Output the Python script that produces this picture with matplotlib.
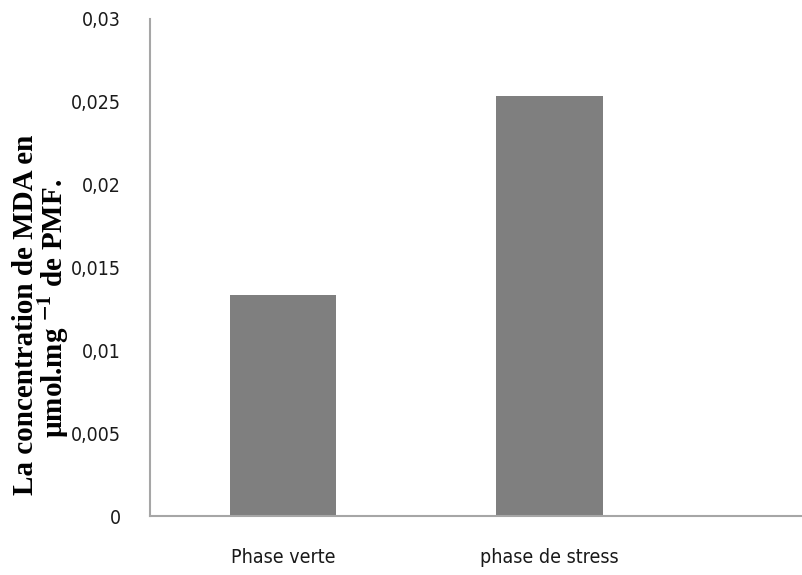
import matplotlib
matplotlib.use("Agg")
import matplotlib.pyplot as plt

categories = ["Phase verte", "phase de stress"]
mda_values = [0.01335, 0.02537]
y_ticks = [0, 0.005, 0.01, 0.015, 0.02, 0.025, 0.03]
y_tick_labels = ["0", "0,005", "0,01", "0,015", "0,02", "0,025", "0,03"]

plt.rcParams["mathtext.fontset"] = "stix"

fig = plt.figure(figsize=(8.03, 5.75), dpi=100)
ax = fig.add_axes([150 / 803, 1 - 516 / 575, 655 / 803, (516 - 19) / 575])

x = list(range(len(categories)))
ax.bar(x, mda_values, width=0.4, color="#7f7f7f", edgecolor="none")

ax.set_ylim(0, 0.03)
ax.set_xlim(-0.5, 1.96)
ax.set_yticks(y_ticks)
ax.set_yticklabels(y_tick_labels)
ax.set_xticks(x)
ax.set_xticklabels(categories)

for lab in ax.get_yticklabels() + ax.get_xticklabels():
    lab.set_fontfamily("DejaVu Sans")
    lab.set_fontstretch("condensed")
    lab.set_fontsize(14)
    lab.set_color("#1a1a1a")

ax.tick_params(axis="both", length=0)
ax.tick_params(axis="y", pad=21)
ax.tick_params(axis="x", pad=23)

for side in ("top", "right"):
    ax.spines[side].set_visible(False)
for side in ("left", "bottom"):
    ax.spines[side].set_color("#a6a6a6")
    ax.spines[side].set_linewidth(1.5)

label_font = dict(family=["Liberation Serif", "DejaVu Serif"], weight="bold",
                  size=21, rotation=90, ha="center", va="center")
fig.text(26 / 803, 1 - 315 / 575, "La concentration de MDA en", **label_font)
fig.text(54 / 803, 1 - 308 / 575, r"µmol.mg $^{\mathbf{-1}}$ de PMF.", **label_font)

fig.savefig("out.png", dpi=100)
